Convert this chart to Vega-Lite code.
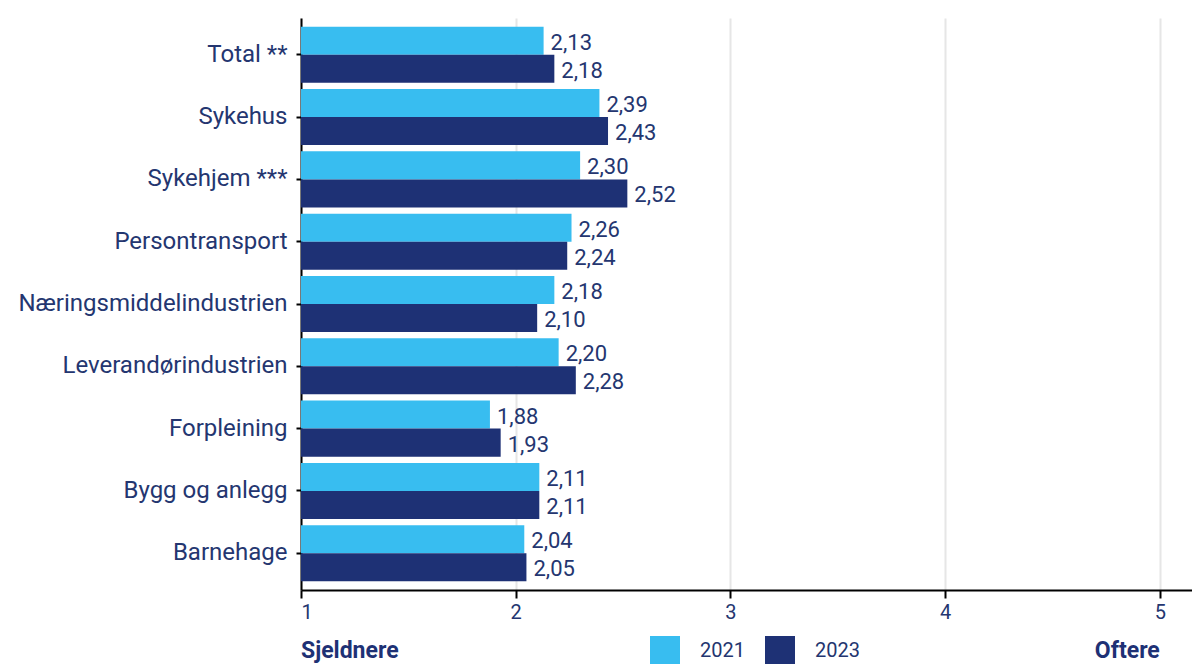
{
  "$schema": "https://vega.github.io/schema/vega-lite/v6.json",
  "autosize": {"type": "none"},
  "width": 891,
  "height": 572,
  "padding": {"left": 301, "top": 18, "right": 0, "bottom": 74},
  "config": {
    "view": {"stroke": null},
    "font": "Roboto",
    "locale": {"number": {"decimal": ",", "thousands": " ", "grouping": [3], "currency": ["", " kr"]}}
  },
  "layer": [
    {
      "data": {"values": [
        {"kategori": "Total **", "år": "2021", "verdi": 2.13},
        {"kategori": "Total **", "år": "2023", "verdi": 2.18},
        {"kategori": "Sykehus", "år": "2021", "verdi": 2.39},
        {"kategori": "Sykehus", "år": "2023", "verdi": 2.43},
        {"kategori": "Sykehjem ***", "år": "2021", "verdi": 2.30},
        {"kategori": "Sykehjem ***", "år": "2023", "verdi": 2.52},
        {"kategori": "Persontransport", "år": "2021", "verdi": 2.26},
        {"kategori": "Persontransport", "år": "2023", "verdi": 2.24},
        {"kategori": "Næringsmiddelindustrien", "år": "2021", "verdi": 2.18},
        {"kategori": "Næringsmiddelindustrien", "år": "2023", "verdi": 2.10},
        {"kategori": "Leverandørindustrien", "år": "2021", "verdi": 2.20},
        {"kategori": "Leverandørindustrien", "år": "2023", "verdi": 2.28},
        {"kategori": "Forpleining", "år": "2021", "verdi": 1.88},
        {"kategori": "Forpleining", "år": "2023", "verdi": 1.93},
        {"kategori": "Bygg og anlegg", "år": "2021", "verdi": 2.11},
        {"kategori": "Bygg og anlegg", "år": "2023", "verdi": 2.11},
        {"kategori": "Barnehage", "år": "2021", "verdi": 2.04},
        {"kategori": "Barnehage", "år": "2023", "verdi": 2.05}
      ]},
      "encoding": {
        "y": {
          "field": "kategori", "type": "nominal", "sort": null,
          "scale": {"paddingInner": 0.1, "paddingOuter": 0.14},
          "axis": {
            "title": null, "domainColor": "#000000", "domainWidth": 2,
            "tickColor": "#000000", "tickWidth": 2, "tickSize": 5,
            "labelPadding": 9, "labelFontSize": 24, "labelColor": "#243670",
            "labelLimit": 400
          }
        },
        "yOffset": {"field": "år", "type": "nominal", "scale": {"paddingInner": 0, "paddingOuter": 0}}
      },
      "layer": [
        {
          "mark": {"type": "bar"},
          "encoding": {
            "x": {
              "field": "verdi", "type": "quantitative",
              "scale": {"domain": [1, 5.15], "nice": false, "zero": false},
              "axis": {
                "title": null, "values": [1, 2, 3, 4, 5], "format": "d",
                "domainColor": "#000000", "domainWidth": 2,
                "tickColor": "#000000", "tickWidth": 2, "tickSize": 8,
                "labelFontSize": 20, "labelColor": "#243670", "labelPadding": 4,
                "grid": true, "gridColor": "#e6e6e6", "gridWidth": 2
              }
            },
            "x2": {"datum": 1},
            "color": {
              "field": "år", "type": "nominal",
              "scale": {"domain": ["2021", "2023"], "range": ["#38bdf0", "#1e3175"]},
              "legend": {
                "title": null, "orient": "none", "legendX": 349, "legendY": 618,
                "direction": "horizontal",
                "symbolType": "square", "symbolSize": 900, "symbolStrokeWidth": 0,
                "labelFontSize": 20, "labelColor": "#243670", "labelOffset": 20,
                "labelBaseline": "middle", "labelLimit": 200,
                "columnPadding": 20
              }
            }
          }
        },
        {
          "mark": {"type": "text", "align": "left", "baseline": "middle", "dx": 7, "dy": 2, "fontSize": 22, "color": "#243670"},
          "encoding": {
            "x": {"field": "verdi", "type": "quantitative"},
            "text": {"field": "verdi", "type": "quantitative", "format": ".2f"}
          }
        }
      ]
    },
    {
      "data": {"values": [{"pos": 1, "tekst": "Sjeldnere"}]},
      "mark": {"type": "text", "align": "left", "baseline": "alphabetic", "fontSize": 23, "fontWeight": "bold", "color": "#1e3175"},
      "encoding": {
        "x": {"field": "pos", "type": "quantitative"},
        "y": {"value": 640},
        "text": {"field": "tekst"}
      }
    },
    {
      "data": {"values": [{"pos": 5, "tekst": "Oftere"}]},
      "mark": {"type": "text", "align": "right", "baseline": "alphabetic", "fontSize": 23, "fontWeight": "bold", "color": "#1e3175"},
      "encoding": {
        "x": {"field": "pos", "type": "quantitative"},
        "y": {"value": 640},
        "text": {"field": "tekst"}
      }
    }
  ]
}
